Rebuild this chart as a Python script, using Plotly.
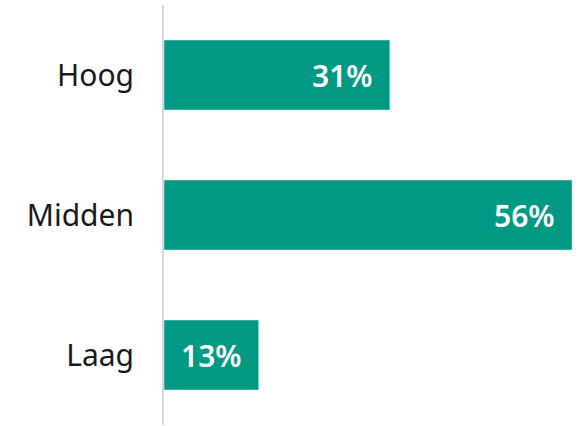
import plotly.graph_objects as go

categories = ["Hoog", "Midden", "Laag"]
values = [31, 56, 13]
labels = ["31%", "56%", "13%"]

bar_color = "#019984"

fig = go.Figure()
fig.add_trace(go.Bar(
    y=categories,
    x=values,
    orientation="h",
    marker_color=bar_color,
    width=0.5,
    hoverinfo="skip",
))

# value labels inside the bar end, with a bit more padding than plotly gives
for cat, val, lab in zip(categories, values, labels):
    fig.add_annotation(
        x=val, y=cat, text=lab,
        xanchor="right", xshift=-15,
        showarrow=False,
        font=dict(family="Noto Sans", size=30, color="white", weight=600),
    )

fig.update_layout(
    width=580, height=426,
    margin=dict(l=164, r=8, t=5, b=1),
    plot_bgcolor="white",
    paper_bgcolor="white",
    showlegend=False,
    font=dict(family="Noto Sans", size=30, color="#1a1a1a"),
)
fig.update_xaxes(range=[0, 56], visible=False, fixedrange=True)
fig.update_yaxes(
    categoryorder="array", categoryarray=categories[::-1],
    showline=True, linecolor="#d3d7dc", linewidth=2,
    showgrid=False, ticks="", ticklabelstandoff=22, automargin=False,
)

# drop the browser's default body margin so the chart sits at the page corner
fig.write_html(
    "out.html",
    config={"displayModeBar": False},
    post_script="document.body.style.margin='0';",
)
